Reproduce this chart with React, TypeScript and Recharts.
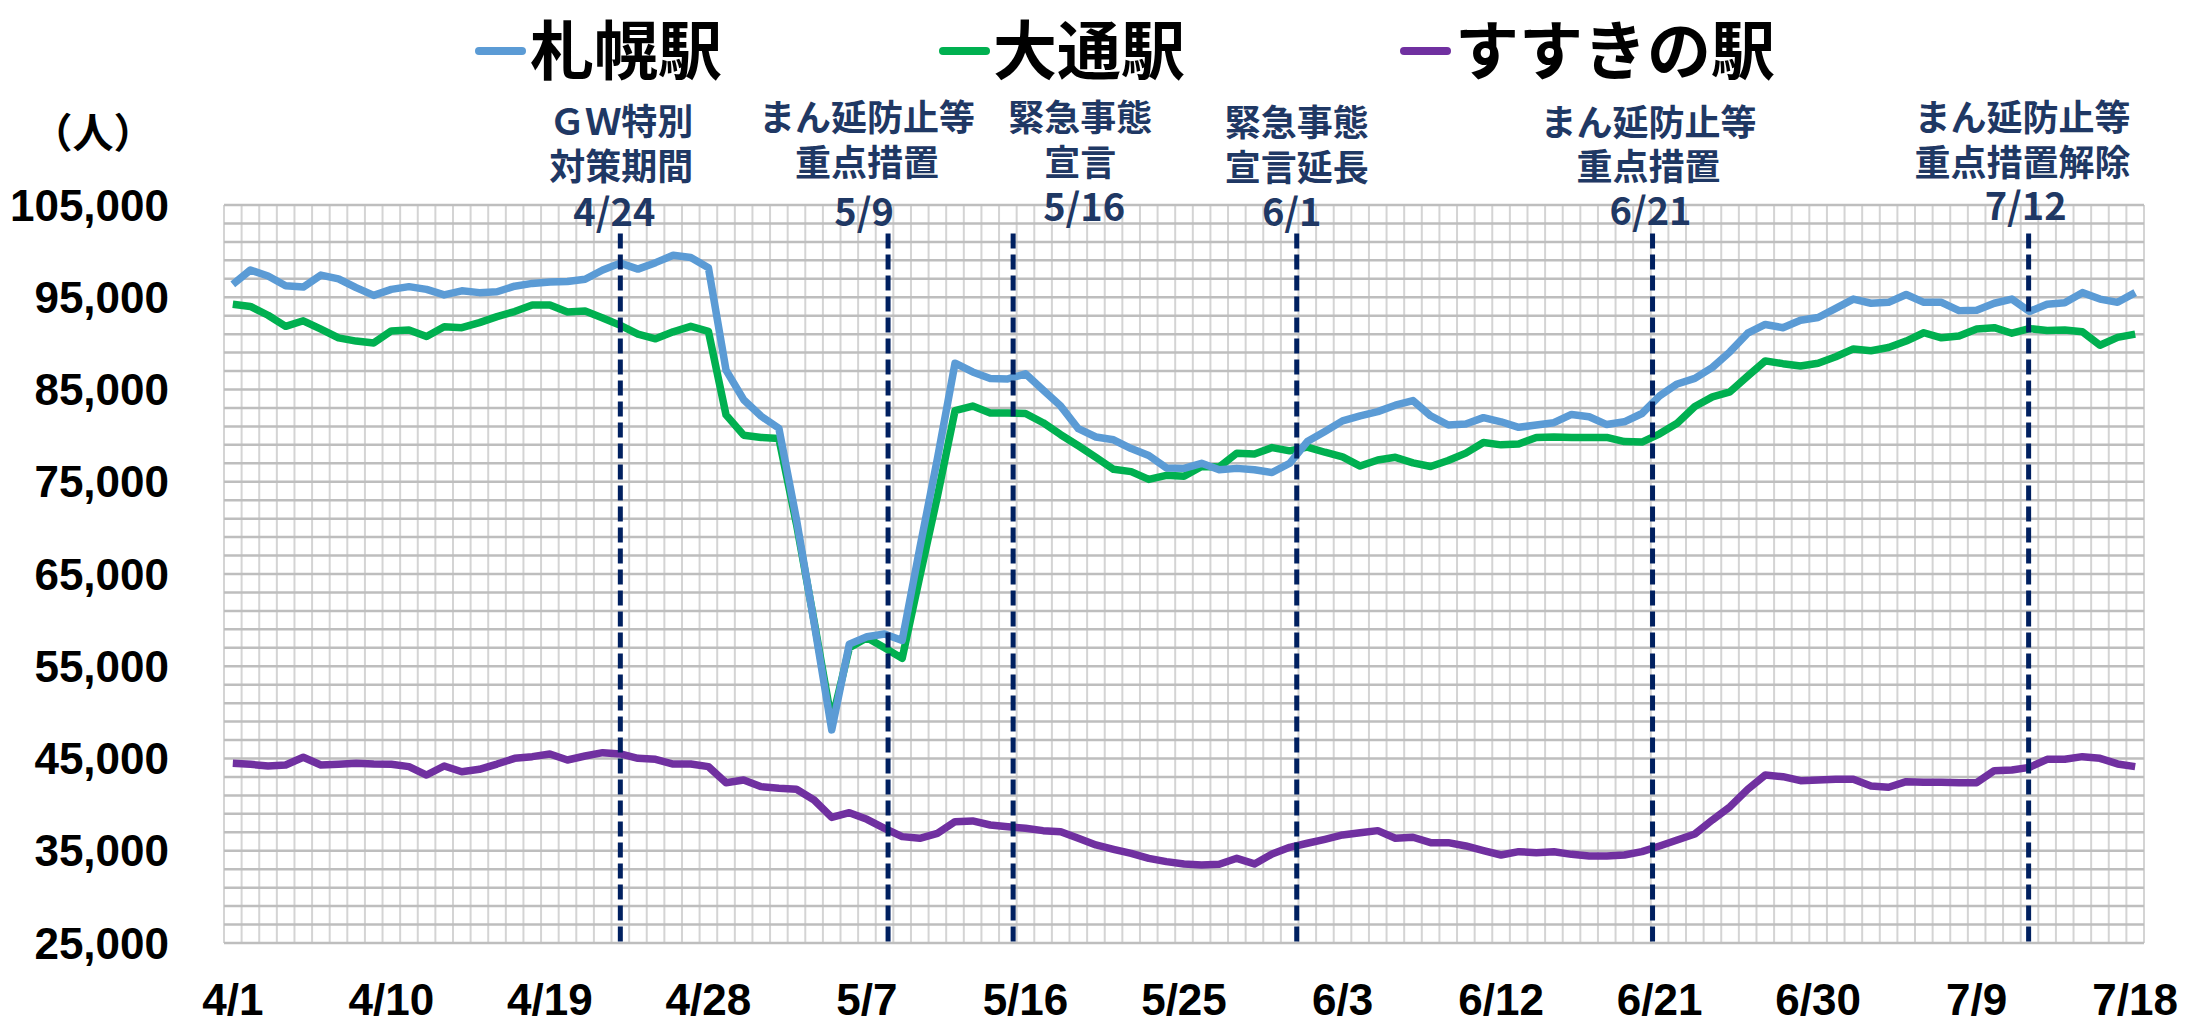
import React from 'react';
import { LineChart, Line, XAxis, YAxis, ReferenceLine } from 'recharts';

const dates = [
  '4/1','4/2','4/3','4/4','4/5','4/6','4/7','4/8','4/9','4/10',
  '4/11','4/12','4/13','4/14','4/15','4/16','4/17','4/18','4/19','4/20',
  '4/21','4/22','4/23','4/24','4/25','4/26','4/27','4/28','4/29','4/30',
  '5/1','5/2','5/3','5/4','5/5','5/6','5/7','5/8','5/9','5/10',
  '5/11','5/12','5/13','5/14','5/15','5/16','5/17','5/18','5/19','5/20',
  '5/21','5/22','5/23','5/24','5/25','5/26','5/27','5/28','5/29','5/30',
  '5/31','6/1','6/2','6/3','6/4','6/5','6/6','6/7','6/8','6/9',
  '6/10','6/11','6/12','6/13','6/14','6/15','6/16','6/17','6/18','6/19',
  '6/20','6/21','6/22','6/23','6/24','6/25','6/26','6/27','6/28','6/29',
  '6/30','7/1','7/2','7/3','7/4','7/5','7/6','7/7','7/8','7/9',
  '7/10','7/11','7/12','7/13','7/14','7/15','7/16','7/17','7/18',
];

const sapporo = [
  96400, 97950, 97300, 96250, 96100, 97400, 97000, 96050, 95200, 95850,
  96150, 95850, 95250, 95700, 95500, 95600, 96200, 96500, 96650, 96700,
  96950, 97950, 98700, 98050, 98750, 99550, 99300, 98200, 87100, 83900,
  82100, 80800, 70900, 59700, 48100, 57400, 58200, 58500, 57800, 67800,
  77500, 87850, 86900, 86200, 86150, 86700, 84950, 83200, 80750, 79850,
  79550, 78600, 77850, 76500, 76450, 77000, 76300, 76450, 76300, 76000,
  77000, 79350, 80450, 81600, 82150, 82600, 83300, 83800, 82150, 81150,
  81250, 81950, 81500, 80900, 81150, 81400, 82300, 82050, 81200, 81500,
  82400, 84300, 85600, 86200, 87400, 89100, 91100, 92050, 91700, 92500,
  92800, 93800, 94800, 94350, 94450, 95300, 94450, 94450, 93550, 93600,
  94350, 94800, 93450, 94250, 94400, 95500, 94800, 94450, 95500,
];

const odori = [
  94250, 94000, 93050, 91850, 92450, 91550, 90600, 90250, 90050, 91350,
  91450, 90750, 91800, 91700, 92250, 92900, 93450, 94150, 94150, 93400,
  93500, 92750, 91950, 91000, 90500, 91250, 91850, 91300, 82250, 80050,
  79800, 79700, 70400, 59900, 49000, 57000, 58100, 57000, 55850, 64700,
  73400, 82700, 83200, 82450, 82450, 82400, 81400, 80100, 78900, 77650,
  76350, 76100, 75250, 75700, 75600, 76650, 76600, 78100, 78000, 78700,
  78350, 78750, 78200, 77700, 76700, 77350, 77650, 77050, 76650, 77300,
  78100, 79250, 79000, 79100, 79800, 79850, 79800, 79800, 79800, 79350,
  79300, 80200, 81350, 83150, 84200, 84750, 86450, 88100, 87800, 87550,
  87850, 88550, 89400, 89200, 89550, 90250, 91150, 90600, 90800, 91550,
  91700, 91100, 91600, 91400, 91450, 91250, 89800, 90650, 91000,
];

const susukino = [
  44480, 44370, 44190, 44300, 45130, 44300, 44370, 44480, 44400, 44370,
  44120, 43210, 44190, 43570, 43830, 44400, 45020, 45200, 45490, 44840,
  45270, 45630, 45490, 45020, 44910, 44400, 44400, 44120, 42380, 42670,
  41950, 41770, 41660, 40500, 38620, 39130, 38410, 37430, 36530, 36350,
  36890, 38150, 38230, 37790, 37610, 37430, 37180, 37070, 36350, 35630,
  35160, 34720, 34180, 33820, 33570, 33460, 33530, 34180, 33570, 34650,
  35370, 35810, 36240, 36710, 36960, 37180, 36350, 36460, 35880, 35880,
  35520, 35010, 34540, 34900, 34790, 34900, 34610, 34430, 34430, 34540,
  34900, 35520, 36170, 36820, 38340, 39780, 41660, 43210, 43030, 42600,
  42670, 42740, 42740, 42020, 41880, 42490, 42420, 42420, 42380, 42380,
  43680, 43750, 44040, 44910, 44910, 45200, 45020, 44410, 44120,
];

const xTickIndex = [0, 9, 18, 27, 36, 45, 54, 63, 72, 81, 90, 99, 108];
const yTicks = [25000, 35000, 45000, 55000, 65000, 75000, 85000, 95000, 105000];

const seriesNames = ['札幌駅', '大通駅', 'すすきの駅'];

// event markers: position on the day axis (day index) and label rows
const eventPos = [22.0, 37.2, 44.3, 60.4, 80.6, 101.95];
const eventRows = [
  ['ＧＷ特別', '対策期間', '4/24'],
  ['まん延防止等', '重点措置', '5/9'],
  ['緊急事態', '宣言', '5/16'],
  ['緊急事態', '宣言延長', '6/1'],
  ['まん延防止等', '重点措置', '6/21'],
  ['まん延防止等', '重点措置解除', '7/12'],
];

// ---- styles ----
const FONT = '"Noto Sans CJK JP", "Noto Sans", sans-serif';
const AXIS_FONT = '"Liberation Sans", Arial, sans-serif';
const COLORS = ['#5B9BD5', '#00B050', '#7030A0'];
const NAVY_LINE = '#002060';
const NAVY_TEXT = '#1F3864';
const labelStyle = [
  { dx: 1, ddx: -6, ys: [122, 167, 213] },
  { dx: -21, ddx: -24, ys: [118, 163, 213] },
  { dx: 67, ddx: 71, ys: [118, 163, 208] },
  { dx: 0, ddx: -5, ys: [123, 168, 213] },
  { dx: -4, ddx: -2, ys: [123, 167, 212] },
  { dx: -6, ddx: -3, ys: [118, 163, 207] },
];

const data = dates.map((d, i) => ({
  i,
  date: d,
  sapporo: sapporo[i],
  odori: odori[i],
  susukino: susukino[i],
}));

const Y_MIN = 25000;
const Y_MAX = 105000;
const hGrid: number[] = [];
for (let v = Y_MIN; v <= Y_MAX; v += 2000) hGrid.push(v);
const vGrid: number[] = [];
for (let k = 0; k <= dates.length; k++) vGrid.push(k - 0.5);

const EventLabel = (props: any) => {
  const { viewBox, rows, st } = props;
  if (!viewBox) return null;
  const cx = viewBox.x + st.dx;
  return (
    <text
      textAnchor="middle"
      fill={NAVY_TEXT}
      fontFamily={FONT}
      fontWeight={700}
      fontSize={36}
    >
      {rows.map((r: string, k: number) => (
        <tspan
          key={k}
          x={k === rows.length - 1 ? viewBox.x + st.ddx : cx}
          y={st.ys[k]}
          dy="0.35em"
          fontSize={k === rows.length - 1 ? 38 : 36}
        >
          {r}
        </tspan>
      ))}
    </text>
  );
};

const legendPos = [
  { marker: 475, text: 530 },
  { marker: 939, text: 993 },
  { marker: 1400, text: 1455 },
];

export default function App() {
  return (
    <div
      style={{
        position: 'absolute',
        left: 0,
        top: 0,
        width: 2188,
        height: 1026,
        background: '#ffffff',
        overflow: 'hidden',
      }}
    >
      {seriesNames.map((name, k) => (
        <React.Fragment key={name}>
          <div
            style={{
              position: 'absolute',
              left: legendPos[k].marker,
              top: 47,
              width: 51,
              height: 8,
              borderRadius: 4,
              background: COLORS[k],
            }}
          />
          <div
            style={{
              position: 'absolute',
              left: legendPos[k].text,
              top: 0,
              lineHeight: 'normal',
              fontSize: 64,
              fontWeight: 700,
              fontFamily: FONT,
              color: '#000',
              whiteSpace: 'nowrap',
            }}
          >
            {name}
          </div>
        </React.Fragment>
      ))}
      <div
        style={{
          position: 'absolute',
          left: 30,
          top: 100,
          width: 126,
          textAlign: 'center',
          fontSize: 41,
          lineHeight: 'normal',
          fontWeight: 700,
          fontFamily: FONT,
          color: '#000',
        }}
      >
        （人）
      </div>
      <div style={{ position: 'absolute', left: 0, top: 0 }}>
        <LineChart
          width={2188}
          height={1026}
          data={data}
          margin={{ top: 205, right: 44, bottom: 23, left: 24 }}
        >
          <XAxis
            dataKey="i"
            type="number"
            domain={[-0.5, dates.length - 0.5]}
            ticks={xTickIndex}
            tickFormatter={(v: number) => dates[v] ?? ''}
            interval={0}
            axisLine={false}
            tickLine={false}
            tickSize={0}
            tickMargin={41}
            height={60}
            allowDataOverflow
            tick={{ fill: '#000', fontSize: 44, fontWeight: 700, fontFamily: AXIS_FONT }}
          />
          <YAxis
            type="number"
            domain={[Y_MIN, Y_MAX]}
            ticks={yTicks}
            interval={0}
            width={200}
            axisLine={false}
            tickLine={false}
            tickSize={0}
            tickMargin={55}
            allowDataOverflow
            tickFormatter={(v: number) => v.toLocaleString('en-US')}
            tick={{ fill: '#000', fontSize: 44, fontWeight: 700, fontFamily: AXIS_FONT }}
          />
          {vGrid.map((x) => (
            <ReferenceLine key={'v' + x} x={x} stroke="#D4D4D4" strokeWidth={2} ifOverflow="visible" />
          ))}
          {hGrid.map((y) => (
            <ReferenceLine key={'h' + y} y={y} stroke="#BEBEBE" strokeWidth={2.5} ifOverflow="visible" />
          ))}
          <Line
            dataKey="susukino"
            name={seriesNames[2]}
            stroke={COLORS[2]}
            strokeWidth={7.5}
            dot={false}
            strokeLinejoin="round"
            isAnimationActive={false}
          />
          <Line
            dataKey="odori"
            name={seriesNames[1]}
            stroke={COLORS[1]}
            strokeWidth={7.5}
            dot={false}
            strokeLinejoin="round"
            isAnimationActive={false}
          />
          <Line
            dataKey="sapporo"
            name={seriesNames[0]}
            stroke={COLORS[0]}
            strokeWidth={7.5}
            dot={false}
            strokeLinejoin="round"
            isAnimationActive={false}
          />
          {eventPos.map((x, k) => (
            <ReferenceLine
              key={'e' + k}
              segment={[
                { x, y: 101900 },
                { x, y: Y_MIN },
              ]}
              stroke={NAVY_LINE}
              strokeWidth={5}
              strokeDasharray="15 6"
              ifOverflow="visible"
              label={<EventLabel rows={eventRows[k]} st={labelStyle[k]} />}
            />
          ))}
        </LineChart>
      </div>
    </div>
  );
}
